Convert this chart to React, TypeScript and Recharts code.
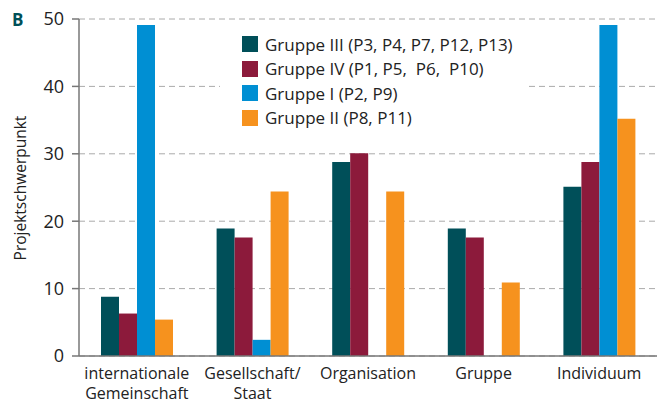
import React from 'react';
import { Bar, BarChart, CartesianGrid, XAxis, YAxis } from 'recharts';

const categories = ['internationale\nGemeinschaft', 'Gesellschaft/\nStaat', 'Organisation', 'Gruppe', 'Individuum'];
const gruppe3 = [8.8, 18.9, 28.8, 18.9, 25.1];
const gruppe4 = [6.3, 17.6, 30.1, 17.6, 28.8];
const gruppe1 = [49.1, 2.4, 0, 0, 49.1];
const gruppe2 = [5.4, 24.4, 24.4, 10.9, 35.2];
const yTicks = [0, 10, 20, 30, 40, 50];

const series = [
  { key: 'g3', name: 'Gruppe III (P3, P4, P7, P12, P13)', color: '#004f59' },
  { key: 'g4', name: 'Gruppe IV (P1, P5,  P6,  P10)', color: '#8c1a3b' },
  { key: 'g1', name: 'Gruppe I (P2, P9)', color: '#008fd3' },
  { key: 'g2', name: 'Gruppe II (P8, P11)', color: '#f6921e' },
];

const data = categories.map((c, i) => ({
  cat: c,
  g3: gruppe3[i],
  g4: gruppe4[i],
  g1: gruppe1[i],
  g2: gruppe2[i],
}));

const FONT = '"Open Sans", Lato, sans-serif';

function CatTick({ x, y, payload }: any) {
  const lines = String(payload.value).split('\n');
  return (
    <text x={x} y={y + 15} textAnchor="middle" fill="#222" fontSize={16} fontFamily={FONT}>
      {lines.map((l, i) => (
        <tspan key={i} x={x} y={y + 15 + i * 20}>
          {l}
        </tspan>
      ))}
    </text>
  );
}

function LegendBox() {
  return (
    <div
      style={{
        position: 'absolute',
        left: 220,
        top: 32,
        width: 307,
        background: '#fff',
        padding: '0 0 0 22px',
        boxSizing: 'border-box',
        fontFamily: FONT,
      }}
    >
      {series.map((s) => (
        <div key={s.key} style={{ display: 'flex', alignItems: 'center', height: 24.5 }}>
          <span style={{ width: 16, height: 16, background: s.color, display: 'inline-block', marginRight: 7, flex: 'none' }} />
          <span style={{ fontSize: 17, color: '#222', whiteSpace: 'pre' }}>{s.name}</span>
        </div>
      ))}
    </div>
  );
}

export default function App() {
  return (
    <div style={{ position: 'absolute', left: 0, top: 0, width: 662, height: 403, background: '#fff' }}>
      <BarChart
        width={662}
        height={403}
        data={data}
        margin={{ top: 19, right: 5, bottom: 0, left: 0 }}
        barSize={18}
        barGap={0}
      >
        <CartesianGrid vertical={false} stroke="#aaa" strokeDasharray="6 4" />
        <XAxis
          dataKey="cat"
          height={47}
          tickLine={false}
          axisLine={{ stroke: '#777', strokeWidth: 1.5 }}
          tick={<CatTick />}
          interval={0}
        />
        <YAxis
          width={79}
          domain={[0, 50]}
          ticks={yTicks}
          tickSize={7}
          tickMargin={8}
          axisLine={{ stroke: '#777', strokeWidth: 1.5 }}
          tickLine={{ stroke: '#777', strokeWidth: 1.5 }}
          tick={{ fill: '#222', fontSize: 18, fontFamily: FONT }}
        />
        {series.map((s) => (
          <Bar key={s.key} dataKey={s.key} name={s.name} fill={s.color} isAnimationActive={false} />
        ))}
      </BarChart>
      <LegendBox />
      <div style={{ position: 'absolute', left: 12, top: 8, fontFamily: FONT, fontWeight: 700, fontSize: 17, color: '#005058' }}>
        B
      </div>
      <div
        style={{
          position: 'absolute',
          left: 20,
          top: 188,
          transform: 'translate(-50%, -50%) rotate(-90deg)',
          fontFamily: FONT,
          fontSize: 15.5,
          color: '#222',
          whiteSpace: 'nowrap',
        }}
      >
        Projektschwerpunkt
      </div>
    </div>
  );
}
